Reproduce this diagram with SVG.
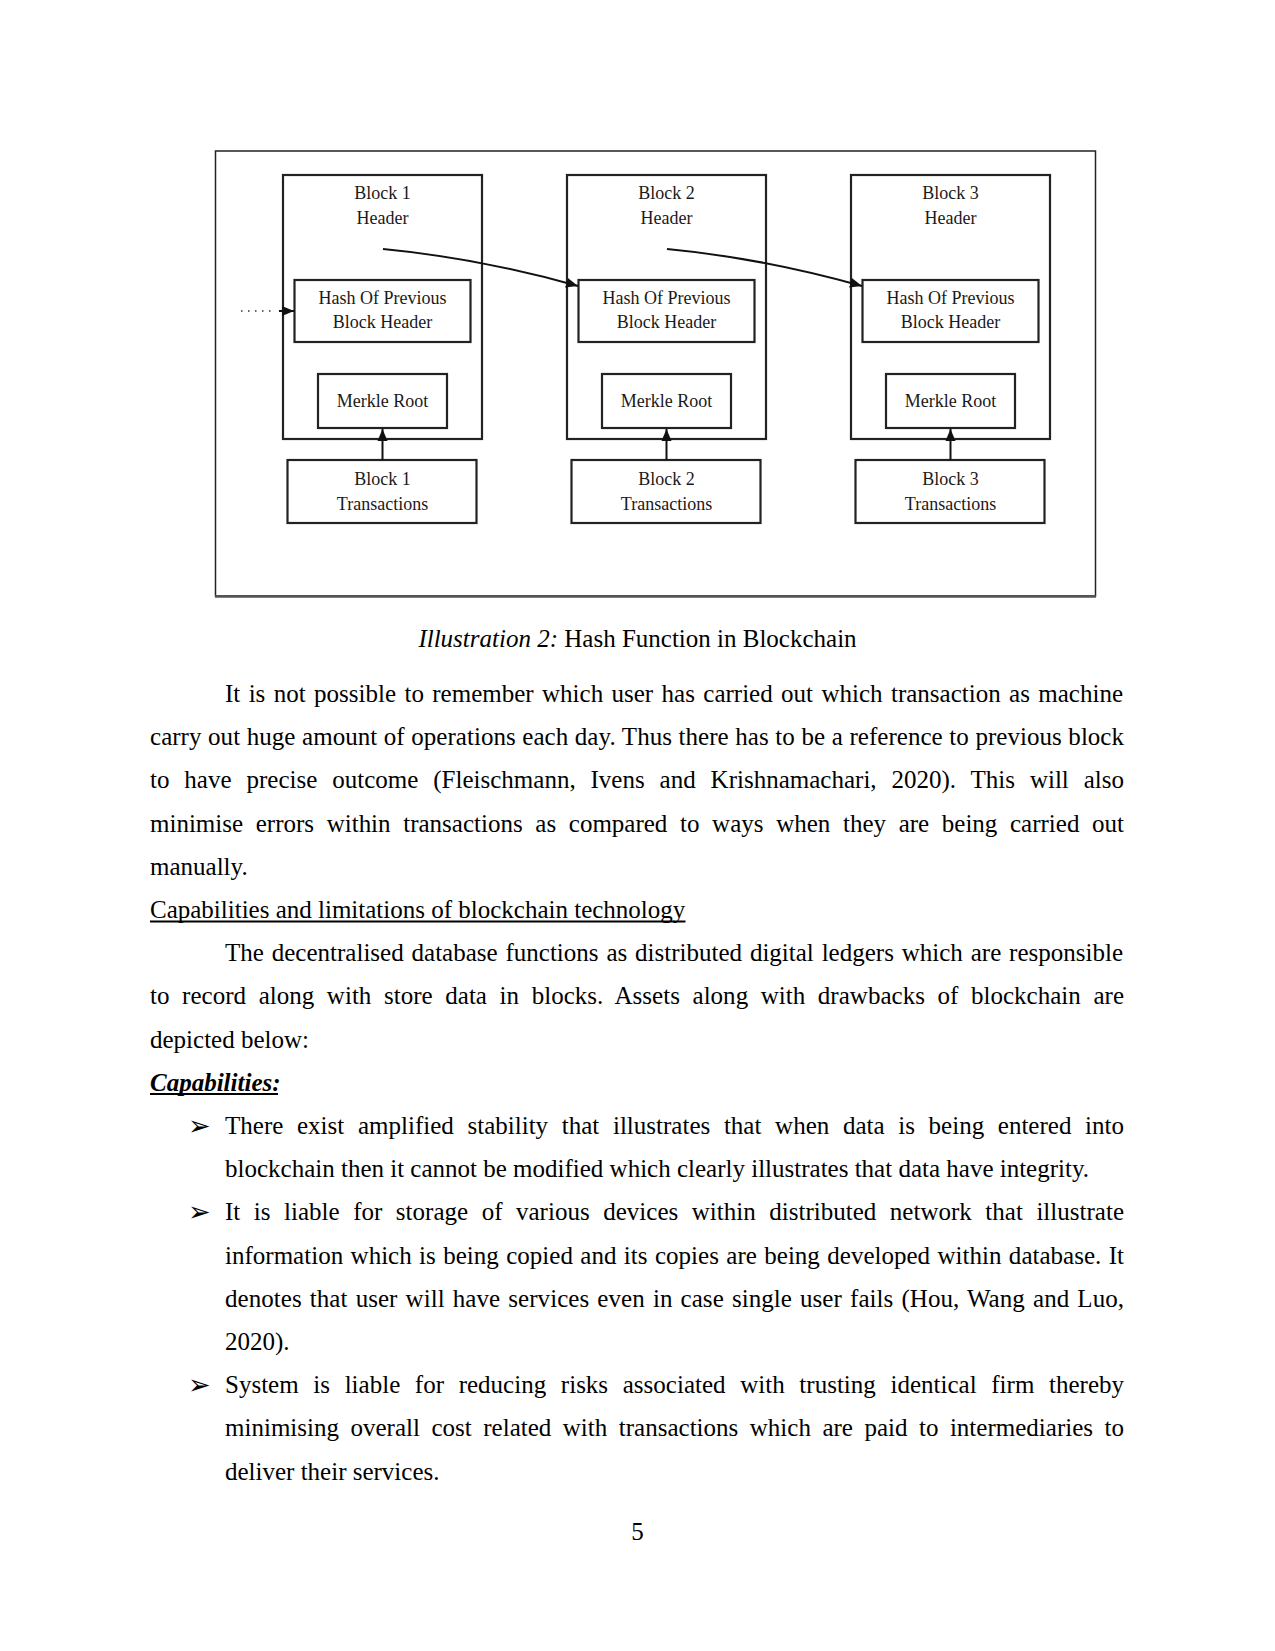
<svg xmlns="http://www.w3.org/2000/svg" width="1275" height="1651" viewBox="0 0 1275 1651">
<style>
.bg{fill:#fff}
.frame{fill:none;stroke:#222;stroke-width:1.5}
.box{fill:none;stroke:#222;stroke-width:2.2}
.dt{font-family:"Liberation Serif","Times New Roman",serif;font-size:18px;fill:#1a1a1a;text-anchor:middle}
.con{fill:none;stroke:#111;stroke-width:2}
.dot{fill:none;stroke:#333;stroke-width:1.5;stroke-dasharray:1.5 5.5}
.t{font-family:"Liberation Serif","Times New Roman",serif;font-size:25px;fill:#000}
.ul{stroke:#000;stroke-width:1.8}
.bul{font-family:"DejaVu Sans",sans-serif;font-size:27px;fill:#000}
</style>
<defs>
<marker id="ah" markerWidth="13" markerHeight="11" refX="12" refY="5.5" orient="auto" markerUnits="userSpaceOnUse">
<path d="M0,0.5 L12,5.5 L0,10.5 Z" fill="#111"/>
</marker>
</defs>
<rect class="bg" x="0" y="0" width="1275" height="1651"/>

<g id="figure">
<rect class="frame" x="215.5" y="151" width="880" height="445"/>
<line x1="215" y1="596.5" x2="1096" y2="596.5" stroke="#555" stroke-width="2.5"/>

<g id="block1">
<rect class="box" x="283" y="175" width="199" height="264"/>
<text class="dt" x="382.5" y="199">Block 1</text>
<text class="dt" x="382.5" y="224">Header</text>
</g>
<g id="hash1">
<rect class="box" x="294.5" y="280" width="176" height="62"/>
<text class="dt" x="382.5" y="304">Hash Of Previous</text>
<text class="dt" x="382.5" y="328">Block Header</text>
</g>
<g id="merkle1">
<rect class="box" x="318" y="374" width="129" height="54"/>
<text class="dt" x="382.5" y="407">Merkle Root</text>
</g>
<g id="tx1">
<rect class="box" x="287.5" y="460" width="189" height="63"/>
<text class="dt" x="382.5" y="485">Block 1</text>
<text class="dt" x="382.5" y="510">Transactions</text>
</g>

<g id="block2">
<rect class="box" x="567" y="175" width="199" height="264"/>
<text class="dt" x="666.5" y="199">Block 2</text>
<text class="dt" x="666.5" y="224">Header</text>
</g>
<g id="hash2">
<rect class="box" x="578.5" y="280" width="176" height="62"/>
<text class="dt" x="666.5" y="304">Hash Of Previous</text>
<text class="dt" x="666.5" y="328">Block Header</text>
</g>
<g id="merkle2">
<rect class="box" x="602" y="374" width="129" height="54"/>
<text class="dt" x="666.5" y="407">Merkle Root</text>
</g>
<g id="tx2">
<rect class="box" x="571.5" y="460" width="189" height="63"/>
<text class="dt" x="666.5" y="485">Block 2</text>
<text class="dt" x="666.5" y="510">Transactions</text>
</g>

<g id="block3">
<rect class="box" x="851" y="175" width="199" height="264"/>
<text class="dt" x="950.5" y="199">Block 3</text>
<text class="dt" x="950.5" y="224">Header</text>
</g>
<g id="hash3">
<rect class="box" x="862.5" y="280" width="176" height="62"/>
<text class="dt" x="950.5" y="304">Hash Of Previous</text>
<text class="dt" x="950.5" y="328">Block Header</text>
</g>
<g id="merkle3">
<rect class="box" x="886" y="374" width="129" height="54"/>
<text class="dt" x="950.5" y="407">Merkle Root</text>
</g>
<g id="tx3">
<rect class="box" x="855.5" y="460" width="189" height="63"/>
<text class="dt" x="950.5" y="485">Block 3</text>
<text class="dt" x="950.5" y="510">Transactions</text>
</g>

<g id="connectors">
<line class="dot" x1="241" y1="311" x2="276" y2="311"/>
<line class="con" x1="279" y1="311" x2="294" y2="311" marker-end="url(#ah)"/>
<path class="con" d="M383,249 Q478,258 578,286" marker-end="url(#ah)"/>
<path class="con" d="M667,249 Q762,258 862,286" marker-end="url(#ah)"/>
<line class="con" x1="382.5" y1="460" x2="382.5" y2="429" marker-end="url(#ah)"/>
<line class="con" x1="666.5" y1="460" x2="666.5" y2="429" marker-end="url(#ah)"/>
<line class="con" x1="950.5" y1="460" x2="950.5" y2="429" marker-end="url(#ah)"/>
</g>
</g>

<g id="body">
<text class="t" x="637.5" y="646.5" text-anchor="middle"><tspan font-style="italic">Illustration 2:</tspan> Hash Function in Blockchain</text>

<text class="t" x="225" y="702" word-spacing="2.15" textLength="898" lengthAdjust="spacing">It is not possible to remember which user has carried out which transaction as machine</text>
<text class="t" x="150" y="745.2" word-spacing="0.36" textLength="974" lengthAdjust="spacing">carry out huge amount of operations each day. Thus there has to be a reference to previous block</text>
<text class="t" x="150" y="788.4" word-spacing="8.64" textLength="974" lengthAdjust="spacing">to have precise outcome (Fleischmann, Ivens and Krishnamachari, 2020). This will also</text>
<text class="t" x="150" y="831.6" word-spacing="6.4" textLength="974" lengthAdjust="spacing">minimise errors within transactions as compared to ways when they are being carried out</text>
<text class="t" x="150" y="874.8">manually.</text>

<text class="t" x="150" y="918">Capabilities and limitations of blockchain technology</text>
<line class="ul" x1="150" y1="921.5" x2="685.5" y2="921.5"/>

<text class="t" x="225" y="961.2" word-spacing="1.62" textLength="898" lengthAdjust="spacing">The decentralised database functions as distributed digital ledgers which are responsible</text>
<text class="t" x="150" y="1004.4" word-spacing="6.34" textLength="974" lengthAdjust="spacing">to record along with store data in blocks. Assets along with drawbacks of blockchain are</text>
<text class="t" x="150" y="1047.6">depicted below:</text>

<text class="t" x="150" y="1090.8" font-weight="bold" font-style="italic">Capabilities:</text>
<line class="ul" x1="150" y1="1094" x2="278" y2="1094"/>

<text class="bul" x="188" y="1135">➢</text>
<text class="t" x="225" y="1134" word-spacing="7.36" textLength="899" lengthAdjust="spacing">There exist amplified stability that illustrates that when data is being entered into</text>
<text class="t" x="225" y="1177.2">blockchain then it cannot be modified which clearly illustrates that data have integrity.</text>

<text class="bul" x="188" y="1221.4">➢</text>
<text class="t" x="225" y="1220.4" word-spacing="7.25" textLength="899" lengthAdjust="spacing">It is liable for storage of various devices within distributed network that illustrate</text>
<text class="t" x="225" y="1263.6" word-spacing="1.14" textLength="899" lengthAdjust="spacing">information which is being copied and its copies are being developed within database. It</text>
<text class="t" x="225" y="1306.8" word-spacing="1.87" textLength="899" lengthAdjust="spacing">denotes that user will have services even in case single user fails (Hou, Wang and Luo,</text>
<text class="t" x="225" y="1350">2020).</text>

<text class="bul" x="188" y="1394.2">➢</text>
<text class="t" x="225" y="1393.2" word-spacing="8.35" textLength="899" lengthAdjust="spacing">System is liable for reducing risks associated with trusting identical firm thereby</text>
<text class="t" x="225" y="1436.4" word-spacing="5.19" textLength="899" lengthAdjust="spacing">minimising overall cost related with transactions which are paid to intermediaries to</text>
<text class="t" x="225" y="1479.6">deliver their services.</text>

<text class="t" x="637.5" y="1540" text-anchor="middle">5</text>
</g>
</svg>
